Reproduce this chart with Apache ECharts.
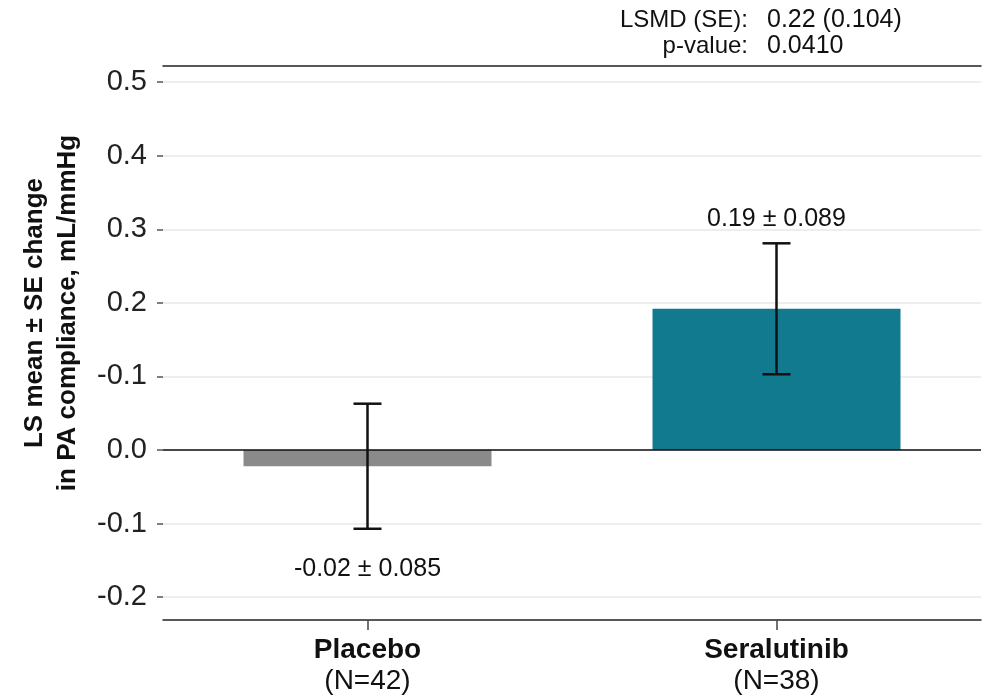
<!DOCTYPE html>
<html>
<head>
<meta charset="utf-8">
<script src="https://cdn.jsdelivr.net/npm/echarts@6/dist/echarts.min.js"></script>
<style>html,body{margin:0;padding:0;background:#fff;}#chart{width:989px;height:697px;}</style>
</head>
<body>
<div id="chart"></div>
<script>
const categories = ['Placebo', 'Seralutinib'];
const groupN = [42, 38];
const lsMeans = [-0.022, 0.192];
const seValues = [0.085, 0.089];
const valueLabels = ['-0.02 \u00b1 0.085', '0.19 \u00b1 0.089'];
const tickValues = [-0.2, -0.1, 0.0, 0.1, 0.2, 0.3, 0.4, 0.5];
const tickLabels = ['-0.2', '-0.1', '0.0', '-0.1', '0.2', '0.3', '0.4', '0.5'];
const statLabels = ['LSMD (SE):', 'p-value:'];
const statValues = ['0.22 (0.104)', '0.0410'];
const yAxisTitle = ['LS mean \u00b1 SE change', 'in PA compliance, mL/mmHg'];
const barColors = ['#8a8a8a', '#127a8e'];

const FONT = '"Liberation Sans", Arial, Helvetica, sans-serif';
const chart = echarts.init(document.getElementById('chart'));

const errData = categories.map((c, i) => [i, lsMeans[i] - seValues[i], lsMeans[i] + seValues[i], lsMeans[i]]);

const option = {
  animation: false,
  backgroundColor: '#ffffff',
  grid: { left: 163, right: 8, top: 66, bottom: 77, containLabel: false },
  xAxis: [{
    type: 'category',
    data: categories,
    position: 'bottom',
    axisLine: { show: true, onZero: false, lineStyle: { color: '#222', width: 1.5 } },
    axisTick: { show: true, alignWithLabel: true, length: 10, lineStyle: { color: '#444', width: 1.5 } },
    axisLabel: {
      margin: 15,
      fontFamily: FONT,
      formatter: function (v, i) { return '{b|' + v + '}\n{n|(N=' + groupN[i] + ')}'; },
      rich: {
        b: { fontFamily: FONT, fontWeight: 'bold', fontSize: 28, color: '#111', lineHeight: 31 },
        n: { fontFamily: FONT, fontSize: 28, color: '#111', lineHeight: 31 }
      }
    },
    splitLine: { show: false }
  }, {
    type: 'category',
    data: categories,
    position: 'top',
    axisLine: { show: true, onZero: false, lineStyle: { color: '#222', width: 1.5 } },
    axisTick: { show: false },
    axisLabel: { show: false }
  }],
  yAxis: {
    type: 'value',
    min: -0.231,
    max: 0.522,
    axisLine: { show: false },
    axisTick: { show: true, customValues: tickValues, length: 6, lineStyle: { color: '#555', width: 1.5 } },
    axisLabel: {
      customValues: tickValues,
      margin: 16,
      fontFamily: FONT,
      fontSize: 29,
      color: '#222',
      formatter: function (v) {
        const idx = tickValues.findIndex(t => Math.abs(t - v) < 1e-6);
        return idx >= 0 ? tickLabels[idx] : '';
      }
    },
    splitLine: { show: true, lineStyle: { color: '#e8e8e8', width: 1.5 } }
  },
  graphic: [
    {
      type: 'text', x: 51, y: 313, rotation: Math.PI / 2,
      style: {
        text: yAxisTitle.join('\n'), fontFamily: FONT, fontWeight: 'bold', fontSize: 26,
        lineHeight: 33, fill: '#111', align: 'center', verticalAlign: 'middle'
      }
    },
    {
      type: 'text', x: 748, y: 20,
      style: { text: statLabels[0], fontFamily: FONT, fontSize: 24, fill: '#111', align: 'right', verticalAlign: 'middle' }
    },
    {
      type: 'text', x: 767, y: 20,
      style: { text: statValues[0], fontFamily: FONT, fontSize: 25, fill: '#111', align: 'left', verticalAlign: 'middle' }
    },
    {
      type: 'text', x: 748, y: 46,
      style: { text: statLabels[1], fontFamily: FONT, fontSize: 24, fill: '#111', align: 'right', verticalAlign: 'middle' }
    },
    {
      type: 'text', x: 767, y: 46,
      style: { text: statValues[1], fontFamily: FONT, fontSize: 25, fill: '#111', align: 'left', verticalAlign: 'middle' }
    }
  ],
  series: [
    {
      type: 'bar',
      barWidth: 248,
      data: lsMeans.map((v, i) => ({ value: v, itemStyle: { color: barColors[i] } })),
      z: 2,
      markLine: {
        silent: true, symbol: 'none', label: { show: false },
        lineStyle: { color: '#111', type: 'solid', width: 1.5 },
        data: [{ yAxis: 0 }],
        z: 3
      }
    },
    {
      type: 'custom',
      data: errData,
      z: 5,
      renderItem: function (params, api) {
        const x = api.value(0);
        const lo = api.coord([x, api.value(1)]);
        const hi = api.coord([x, api.value(2)]);
        const mean = api.value(3);
        const cap = 14;
        const style = { stroke: '#111', lineWidth: 2.5 };
        const idx = params.dataIndex;
        const textY = mean >= 0 ? hi[1] - 24 : lo[1] + 40;
        return {
          type: 'group',
          children: [
            { type: 'line', shape: { x1: lo[0], y1: lo[1], x2: hi[0], y2: hi[1] }, style: style },
            { type: 'line', shape: { x1: lo[0] - cap, y1: lo[1], x2: lo[0] + cap, y2: lo[1] }, style: style },
            { type: 'line', shape: { x1: hi[0] - cap, y1: hi[1], x2: hi[0] + cap, y2: hi[1] }, style: style },
            { type: 'text', x: hi[0], y: textY, style: { text: valueLabels[idx], fontFamily: FONT, fontSize: 25, fill: '#111', align: 'center', verticalAlign: 'middle' } }
          ]
        };
      }
    }
  ]
};
chart.setOption(option);
</script>
</body>
</html>
